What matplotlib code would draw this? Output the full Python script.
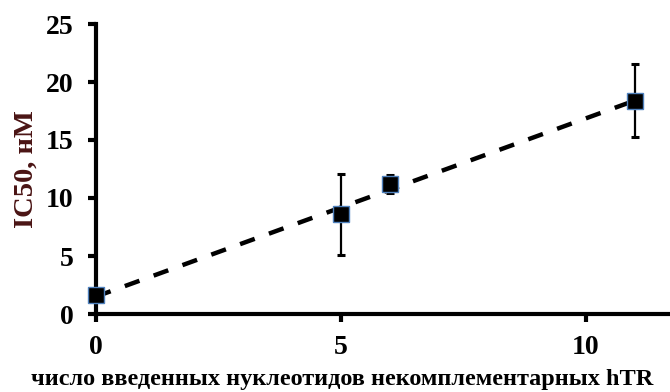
import matplotlib
matplotlib.use('Agg')
import matplotlib.pyplot as plt
import numpy as np

plt.rcParams['font.family'] = ['Liberation Serif', 'DejaVu Serif']
plt.rcParams['font.weight'] = 'bold'

# data
n_nucl = [0, 5, 6, 11]
ic50 = [1.6, 8.6, 11.2, 18.4]
ic50_err = [0.0, 3.5, 0.8, 3.15]

x_ticks = [0, 5, 10]
y_ticks = [0, 5, 10, 15, 20, 25]

fig = plt.figure(figsize=(6.7, 3.92), dpi=100)
ax = fig.add_axes([96 / 670, 1 - 314 / 392, 1 - 96 / 670, (314 - 24) / 392])

# linear trend line
k, b = np.polyfit(n_nucl, ic50, 1)
xs = np.array([0, 11])
ax.plot(xs, k * xs + b, color='black', lw=3.2, ls=(0, (3.5, 3.4)),
        zorder=2, clip_on=False)

ax.errorbar(n_nucl, ic50, yerr=ic50_err, fmt='none', ecolor='black',
            elinewidth=1.6, capsize=3, capthick=2.2, zorder=3)
ax.plot(n_nucl, ic50, ls='none', marker='s', ms=11.5, mfc='black',
        mec='#4f81bd', mew=1.0, zorder=6, clip_on=False)

ax.set_xlim(0, 11.72)
ax.set_ylim(0, 25)
ax.set_xticks(x_ticks)
ax.set_yticks(y_ticks)

for s in ['top', 'right']:
    ax.spines[s].set_visible(False)
for s in ['left', 'bottom']:
    ax.spines[s].set_linewidth(3)
    ax.spines[s].set_zorder(5)

ax.tick_params(axis='both', width=3, length=6, labelsize=20, colors='black')
ax.tick_params(axis='x', pad=9)
ax.tick_params(axis='y', pad=10)

ax.set_xlabel('число введенных нуклеотидов некомплементарных hTR',
              fontsize=17.5, fontweight='bold')
ax.xaxis.label.set_va('baseline')
ax.xaxis.set_label_coords((342 - 96) / 574, -(385 - 314) / 290)
ax.set_ylabel('IC50, нМ', fontsize=20.5, fontweight='bold', color='#4a1414',
              labelpad=5)

fig.savefig('out.png', dpi=100)
